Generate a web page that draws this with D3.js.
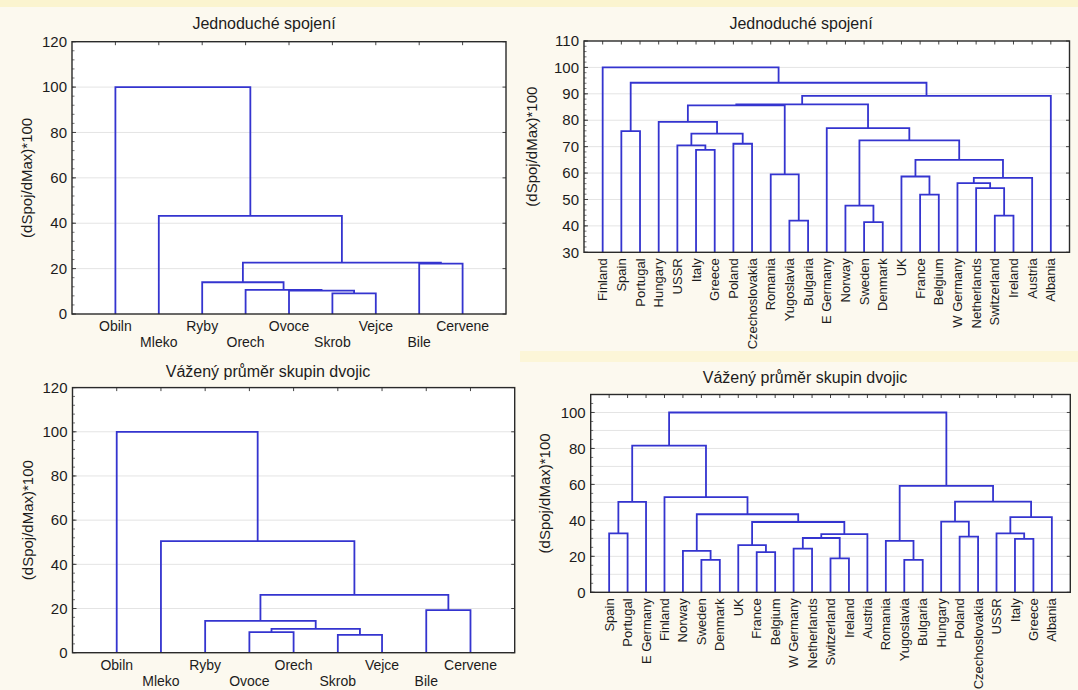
<!DOCTYPE html>
<html>
<head>
<meta charset="utf-8">
<script src="https://cdn.jsdelivr.net/npm/d3@7"></script>
<style>
  html, body { margin: 0; padding: 0; background: #fcf9ef; }
  svg { display: block; font-family: "Liberation Sans", Arial, sans-serif; }
</style>
</head>
<body>
<svg id="chart" width="1078" height="690"></svg>
<script>
// ---- Leaf orders (as they appear along each axis) ----
const foodLeavesSingle = ["Obiln", "Mleko", "Ryby", "Orech", "Ovoce", "Skrob", "Vejce", "Bile", "Cervene"];
const foodLeavesAverage = ["Obiln", "Mleko", "Ryby", "Ovoce", "Orech", "Skrob", "Vejce", "Bile", "Cervene"];
const countryLeavesSingle = ["Finland", "Spain", "Portugal", "Hungary", "USSR", "Italy", "Greece", "Poland",
  "Czechoslovakia", "Romania", "Yugoslavia", "Bulgaria", "E Germany", "Norway", "Sweden", "Denmark", "UK",
  "France", "Belgium", "W Germany", "Netherlands", "Switzerland", "Ireland", "Austria", "Albania"];
const countryLeavesAverage = ["Spain", "Portugal", "E Germany", "Finland", "Norway", "Sweden", "Denmark", "UK",
  "France", "Belgium", "W Germany", "Netherlands", "Switzerland", "Ireland", "Austria", "Romania", "Yugoslavia",
  "Bulgaria", "Hungary", "Poland", "Czechoslovakia", "USSR", "Italy", "Greece", "Albania"];

// ---- Merge steps: [left, right, linkage distance]; a number refers to an earlier step ----
const foodMergesSingle = [
  ["Skrob", "Vejce", 9.1],
  ["Ovoce", 0, 10.3],
  ["Orech", 1, 10.6],
  ["Ryby", 2, 14.0],
  ["Bile", "Cervene", 22.2],
  [3, 4, 22.6],
  ["Mleko", 5, 43.2],
  ["Obiln", 6, 100]
];
const foodMergesAverage = [
  ["Skrob", "Vejce", 8.1],
  ["Ovoce", "Orech", 9.3],
  [1, 0, 10.8],
  ["Ryby", 2, 14.4],
  ["Bile", "Cervene", 19.3],
  [3, 4, 26.2],
  ["Mleko", 5, 50.5],
  ["Obiln", 6, 100]
];
const countryMergesSingle = [
  ["Italy", "Greece", 68.8],
  ["USSR", 0, 70.5],
  ["Poland", "Czechoslovakia", 71.1],
  [1, 2, 74.9],
  ["Hungary", 3, 79.4],
  ["Yugoslavia", "Bulgaria", 42.0],
  ["Romania", 5, 59.5],
  [4, 6, 85.6],
  ["Sweden", "Denmark", 41.4],
  ["Norway", 8, 47.7],
  ["France", "Belgium", 51.8],
  ["UK", 10, 58.7],
  ["Switzerland", "Ireland", 43.9],
  ["Netherlands", 12, 54.3],
  ["W Germany", 13, 56.2],
  [14, "Austria", 58.2],
  [11, 15, 65.0],
  [9, 16, 72.4],
  ["E Germany", 17, 77.0],
  [7, 18, 86.0],
  [19, "Albania", 89.2],
  ["Spain", "Portugal", 75.9],
  [21, 20, 94.2],
  ["Finland", 22, 100]
];
const countryMergesAverage = [
  ["Spain", "Portugal", 32.8],
  [0, "E Germany", 50.3],
  ["Sweden", "Denmark", 18.0],
  ["Norway", 2, 23.0],
  ["France", "Belgium", 22.3],
  ["UK", 4, 26.2],
  ["W Germany", "Netherlands", 24.3],
  ["Switzerland", "Ireland", 18.9],
  [6, 7, 30.2],
  [8, "Austria", 32.3],
  [5, 9, 39.1],
  [3, 10, 43.4],
  ["Finland", 11, 52.9],
  [1, 12, 81.6],
  ["Yugoslavia", "Bulgaria", 18.0],
  ["Romania", 14, 28.6],
  ["Poland", "Czechoslovakia", 31.0],
  ["Hungary", 16, 39.3],
  ["Italy", "Greece", 29.7],
  ["USSR", 18, 32.8],
  [19, "Albania", 41.8],
  [17, 20, 50.4],
  [15, 21, 59.2],
  [13, 22, 100]
];

// ---- Axis ticks ----
const foodTicks = [0, 20, 40, 60, 80, 100, 120];
const countrySingleTicks = [30, 40, 50, 60, 70, 80, 90, 100, 110];
const countryAverageTicks = [0, 20, 40, 60, 80, 100];
const countryAverageGrid = [10, 20, 30, 40, 50, 60, 70, 80, 90, 100];

const titleSingle = "Jednoduché spojení";
const titleAverage = "Vážený průměr skupin dvojic";
const yTitle = "(dSpoj/dMax)*100";

const svg = d3.select("#chart");
const LINE = "#3434cf";
const INK = "#1c1c1c";

// page background bands
svg.append("rect").attr("x", 0).attr("y", 0).attr("width", 1078).attr("height", 690).attr("fill", "#fcf9ef");
svg.append("rect").attr("x", 0).attr("y", 0).attr("width", 1078).attr("height", 7).attr("fill", "#fbf4cf");
svg.append("rect").attr("x", 520).attr("y", 351).attr("width", 558).attr("height", 11).attr("fill", "#fcf6d8");

function buildTree(merges) {
  const nodes = merges.map(() => null);
  const ref = v => (typeof v === "number") ? nodes[v] : { name: v, h: 0 };
  merges.forEach((m, i) => {
    nodes[i] = { h: m[2], children: [ref(m[0]), ref(m[1])] };
  });
  return d3.hierarchy(nodes[nodes.length - 1], d => d.children);
}

function drawDendrogram(opt) {
  const g = svg.append("g");
  const x = d3.scalePoint().domain(opt.leaves).range([opt.x0, opt.x1]).padding(1);
  const y = d3.scaleLinear().domain(opt.yDomain).range([opt.y1, opt.y0]);

  // plot background
  g.append("rect").attr("x", opt.x0).attr("y", opt.y0)
    .attr("width", opt.x1 - opt.x0).attr("height", opt.y1 - opt.y0).attr("fill", "#ffffff");

  // grid lines
  g.selectAll(".grid").data(opt.grid).join("line")
    .attr("x1", opt.x0).attr("x2", opt.x1)
    .attr("y1", d => y(d)).attr("y2", d => y(d))
    .attr("stroke", "#e4e4e4").attr("stroke-width", 1);

  // minor ticks on left and right edges
  const minor = d3.range(opt.yDomain[0], opt.yDomain[1] + 0.001, opt.minorStep);
  g.selectAll(".minorL").data(minor).join("line")
    .attr("x1", opt.x0).attr("x2", opt.x0 + 2.5)
    .attr("y1", d => y(d)).attr("y2", d => y(d))
    .attr("stroke", "#555").attr("stroke-width", 0.8);
  g.selectAll(".majorR").data(opt.ticks).join("line")
    .attr("x1", opt.x1).attr("x2", opt.x1 - 3.5)
    .attr("y1", d => y(d)).attr("y2", d => y(d))
    .attr("stroke", "#444").attr("stroke-width", 1);
  g.selectAll(".majorL").data(opt.ticks).join("line")
    .attr("x1", opt.x0).attr("x2", opt.x0 + 4)
    .attr("y1", d => y(d)).attr("y2", d => y(d))
    .attr("stroke", "#444").attr("stroke-width", 1);
  // leaf ticks on the top edge
  g.selectAll(".topT").data(opt.leaves).join("line")
    .attr("x1", d => x(d)).attr("x2", d => x(d))
    .attr("y1", opt.y0).attr("y2", opt.y0 + 3.5)
    .attr("stroke", "#444").attr("stroke-width", 1);

  // tree branches
  const root = buildTree(opt.merges);
  root.eachAfter(n => {
    n.px = n.children ? d3.mean(n.children, c => c.px) : x(n.data.name);
  });
  const path = d3.path();
  root.each(n => {
    if (!n.children) return;
    const [a, b] = n.children;
    path.moveTo(a.px, y(Math.max(a.data.h, opt.yDomain[0])));
    path.lineTo(a.px, y(n.data.h));
    path.lineTo(b.px, y(n.data.h));
    path.lineTo(b.px, y(Math.max(b.data.h, opt.yDomain[0])));
  });
  g.append("path").attr("d", path.toString())
    .attr("fill", "none").attr("stroke", LINE).attr("stroke-width", 1.8)
    .attr("stroke-linejoin", "miter");

  // frame
  g.append("rect").attr("x", opt.x0).attr("y", opt.y0)
    .attr("width", opt.x1 - opt.x0).attr("height", opt.y1 - opt.y0)
    .attr("fill", "none").attr("stroke", "#2a2a2a").attr("stroke-width", 1.4);

  // y tick labels
  g.selectAll(".tl").data(opt.ticks).join("text")
    .attr("x", opt.x0 - 5).attr("y", d => y(d)).attr("dy", "0.35em")
    .attr("text-anchor", "end").attr("font-size", 15).attr("fill", INK)
    .text(d => d);

  // leaf labels
  if (opt.rotated) {
    g.selectAll(".ll").data(opt.leaves).join("text")
      .attr("transform", d => `translate(${x(d)},${opt.y1 + 6}) rotate(-90)`)
      .attr("dy", "0.35em").attr("text-anchor", "end")
      .attr("font-size", 13).attr("fill", INK).text(d => d);
  } else {
    g.selectAll(".ll").data(opt.leaves).join("text")
      .attr("x", d => x(d))
      .attr("y", (d, i) => opt.y1 + (i % 2 === 0 ? 12.5 : 28))
      .attr("dy", "0.35em").attr("text-anchor", "middle")
      .attr("font-size", 14).attr("fill", INK).text(d => d);
  }

  // titles
  g.append("text").attr("x", opt.titleX).attr("y", opt.titleY).attr("dy", "0.35em")
    .attr("text-anchor", "middle").attr("font-size", 16).attr("fill", INK).text(opt.title);
  g.append("text")
    .attr("transform", `translate(${opt.yTitleX},${(opt.y0 + opt.y1) / 2}) rotate(-90)`)
    .attr("dy", "0.35em").attr("text-anchor", "middle")
    .attr("font-size", 15).attr("fill", INK).text(yTitle);
}

drawDendrogram({
  leaves: foodLeavesSingle, merges: foodMergesSingle,
  x0: 72, x1: 506, y0: 41.7, y1: 314, yDomain: [0, 120],
  ticks: foodTicks, grid: foodTicks.slice(1, -1), minorStep: 4,
  title: titleSingle, titleX: 264, titleY: 23, yTitleX: 27, rotated: false
});
drawDendrogram({
  leaves: countryLeavesSingle, merges: countryMergesSingle,
  x0: 584, x1: 1069.5, y0: 41, y1: 252.3, yDomain: [30, 110],
  ticks: countrySingleTicks, grid: countrySingleTicks.slice(1, -1), minorStep: 2,
  title: titleSingle, titleX: 801, titleY: 23, yTitleX: 532, rotated: true
});
drawDendrogram({
  leaves: foodLeavesAverage, merges: foodMergesAverage,
  x0: 72.5, x1: 514.7, y0: 387.6, y1: 652.7, yDomain: [0, 120],
  ticks: foodTicks, grid: foodTicks.slice(1, -1), minorStep: 4,
  title: titleAverage, titleX: 268, titleY: 371, yTitleX: 28, rotated: false
});
drawDendrogram({
  leaves: countryLeavesAverage, merges: countryMergesAverage,
  x0: 590.7, x1: 1070.3, y0: 394.5, y1: 592.3, yDomain: [0, 110],
  ticks: countryAverageTicks, grid: countryAverageGrid, minorStep: 5,
  title: titleAverage, titleX: 805, titleY: 377, yTitleX: 545, rotated: true
});
</script>
</body>
</html>
